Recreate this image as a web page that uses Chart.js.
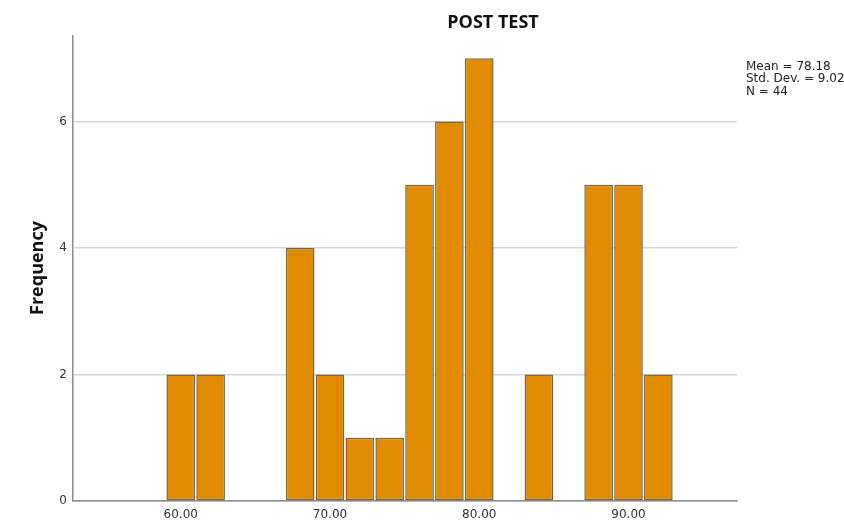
<!DOCTYPE html>
<html><head><meta charset="utf-8">
<script src="https://cdn.jsdelivr.net/npm/chart.js@4"></script>
<style>html,body{margin:0;padding:0;background:#fff;} #wrap{width:844px;height:523px;position:relative;}</style>
</head><body><div id="wrap"><canvas id="c" width="844" height="523"></canvas></div>
<script>
const chartTitle = 'POST TEST';
const yAxisTitle = 'Frequency';
const binCenters = [60, 62, 68, 70, 72, 74, 76, 78, 80, 84, 88, 90, 92];
const frequencies = [2, 2, 4, 2, 1, 1, 5, 6, 7, 2, 5, 5, 2];
const xTickValues = [60, 70, 80, 90];
const yTickValues = [0, 2, 4, 6];
const statsLines = ['Mean = 78.18', 'Std. Dev. = 9.02', 'N = 44'];

const textPlugin = {
  id: 'texts',
  afterDraw(chart) {
    const ctx = chart.ctx;
    ctx.save();
    ctx.fillStyle = '#111';
    ctx.font = 'bold 18px "Open Sans"';
    ctx.textAlign = 'center';
    ctx.textBaseline = 'alphabetic';
    ctx.fillText(chartTitle, 493, 27.5);
    ctx.save();
    ctx.translate(42.5, 268);
    ctx.rotate(-Math.PI / 2);
    ctx.textBaseline = 'alphabetic';
    ctx.fillText(yAxisTitle, 0, 0);
    ctx.restore();
    ctx.font = '12px "DejaVu Sans"';
    ctx.fillStyle = '#222';
    ctx.textAlign = 'left';
    statsLines.forEach((s, i) => ctx.fillText(s, 746, 69.5 + i * 12.5));
    ctx.restore();
  }
};

new Chart(document.getElementById('c'), {
  type: 'bar',
  data: {
    datasets: [{
      data: binCenters.map((x, i) => ({ x: x, y: frequencies[i] })),
      backgroundColor: '#e08b00',
      borderColor: '#7a6442',
      borderWidth: 1.5,
      borderSkipped: false,
      barPercentage: 0.96,
      categoryPercentage: 1
    }]
  },
  options: {
    responsive: false,
    animation: false,
    devicePixelRatio: 1,
    layout: { padding: { left: 0, right: 107, top: 36, bottom: 0 } },
    plugins: { legend: { display: false }, tooltip: { enabled: false }, title: { display: false } },
    scales: {
      x: {
        type: 'linear',
        offset: false,
        min: 52.78,
        max: 97.27,
        afterFit(s) { s.height = 22; },
        afterBuildTicks(s) { s.ticks = xTickValues.map(v => ({ value: v })); },
        grid: { display: false, drawTicks: false, offset: false },
        border: { display: true, color: '#8a8a8a', width: 1.5 },
        ticks: {
          padding: 7,
          color: '#333',
          font: { family: 'DejaVu Sans', size: 12 },
          maxRotation: 0,
          callback: v => Number(v).toFixed(2)
        }
      },
      y: {
        min: 0,
        max: 7.35,
        afterFit(s) { s.width = 73; },
        afterBuildTicks(s) { s.ticks = yTickValues.map(v => ({ value: v })); },
        grid: { color: '#d6d6d6', lineWidth: 1.5, drawTicks: false },
        border: { display: true, color: '#8a8a8a', width: 1.5 },
        ticks: {
          padding: 6,
          color: '#333',
          font: { family: 'DejaVu Sans', size: 12 }
        }
      }
    }
  },
  plugins: [textPlugin]
});
</script>
</body></html>
